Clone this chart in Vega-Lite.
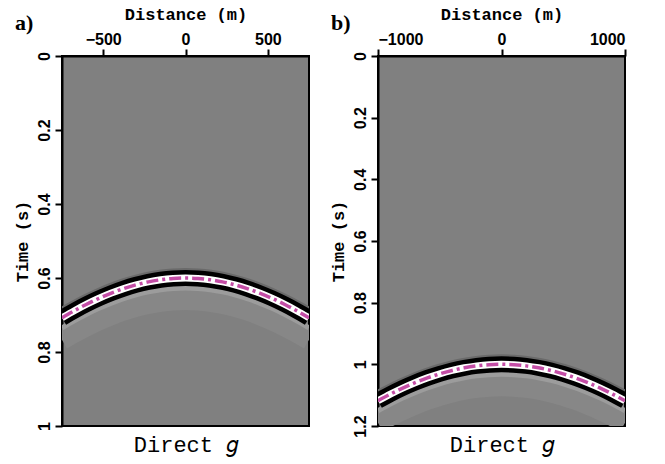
{
  "$schema": "https://vega.github.io/schema/vega-lite/v6.json",
  "background": "white",
  "padding": {"left": 12, "top": 4, "right": 5, "bottom": 5},
  "spacing": 18,
  "config": {
    "view": {"stroke": "black", "strokeWidth": 2, "fill": "#808080"},
    "axis": {
      "grid": false,
      "labelFont": "Liberation Sans",
      "labelFontWeight": "bold",
      "labelFontSize": 16,
      "labelColor": "black",
      "titleFont": "Liberation Mono",
      "titleFontWeight": "bold",
      "titleFontSize": 17,
      "titleColor": "black",
      "tickColor": "black",
      "tickWidth": 2,
      "tickSize": 7,
      "domainColor": "black",
      "domainWidth": 2,
      "format": "~r"
    },
    "axisX": {"labelPadding": 2, "titlePadding": 8},
    "axisY": {"labelAngle": 270, "labelAlign": "center", "labelBaseline": "bottom", "labelPadding": 3, "titlePadding": 5},
    "title": {"font": "Liberation Serif", "fontWeight": "bold", "fontSize": 22, "color": "black", "anchor": "start", "frame": "bounds"}
  },
  "hconcat": [
    {
      "width": 247,
      "height": 370,
      "title": {"text": "a)", "offset": -30, "dx": 2},
      "data": {"values": [
        {"x": -750, "t": 0.7076}, {"x": -675, "t": 0.6884}, {"x": -600, "t": 0.6708}, {"x": -525, "t": 0.6549},
        {"x": -450, "t": 0.6408}, {"x": -375, "t": 0.6286}, {"x": -300, "t": 0.6185}, {"x": -225, "t": 0.6105},
        {"x": -150, "t": 0.6047}, {"x": -75, "t": 0.6012}, {"x": 0, "t": 0.6}, {"x": 75, "t": 0.6012},
        {"x": 150, "t": 0.6047}, {"x": 225, "t": 0.6105}, {"x": 300, "t": 0.6185}, {"x": 375, "t": 0.6286},
        {"x": 450, "t": 0.6408}, {"x": 525, "t": 0.6549}, {"x": 600, "t": 0.6708}, {"x": 675, "t": 0.6884},
        {"x": 750, "t": 0.7076}
      ]},
      "layer": [
        {
          "mark": {"type": "line", "color": "#878787", "strokeWidth": 20, "clip": true, "interpolate": "monotone"},
          "encoding": {
            "x": {"field": "x", "type": "quantitative", "scale": {"domain": [-750, 750], "nice": false, "zero": false},
                  "axis": {"orient": "top", "title": "Distance (m)", "values": [-500, 0, 500]}},
            "y": {"field": "t", "type": "quantitative", "scale": {"domain": [0, 1], "reverse": true, "nice": false, "zero": false},
                  "axis": {"title": "Time (s)", "values": [0, 0.2, 0.4, 0.6, 0.8, 1]}},
            "yOffset": {"value": 22}
          }
        },
        {
          "mark": {"type": "line", "color": "#6a6a6a", "strokeWidth": 20, "clip": true, "interpolate": "monotone"},
          "encoding": {
            "x": {"field": "x", "type": "quantitative", "axis": null},
            "y": {"field": "t", "type": "quantitative", "axis": null}
          }
        },
        {
          "mark": {"type": "line", "color": "#9c9c9c", "strokeWidth": 5, "clip": true, "interpolate": "monotone"},
          "encoding": {
            "x": {"field": "x", "type": "quantitative", "axis": null},
            "y": {"field": "t", "type": "quantitative", "axis": null},
            "yOffset": {"value": 10}
          }
        },
        {
          "mark": {"type": "line", "color": "black", "strokeWidth": 16, "clip": true, "interpolate": "monotone"},
          "encoding": {
            "x": {"field": "x", "type": "quantitative", "axis": null},
            "y": {"field": "t", "type": "quantitative", "axis": null}
          }
        },
        {
          "mark": {"type": "line", "color": "white", "strokeWidth": 7, "clip": true, "interpolate": "monotone"},
          "encoding": {
            "x": {"field": "x", "type": "quantitative", "axis": null},
            "y": {"field": "t", "type": "quantitative", "axis": null}
          }
        },
        {
          "mark": {"type": "line", "color": "#c44ea6", "strokeWidth": 3.5, "strokeDash": [12, 4, 3, 4], "clip": true, "interpolate": "monotone"},
          "encoding": {
            "x": {"field": "x", "type": "quantitative", "axis": null},
            "y": {"field": "t", "type": "quantitative", "axis": null}
          }
        },
        {
          "mark": {"type": "line", "opacity": 0},
          "encoding": {
            "x": {"field": "x", "type": "quantitative",
                  "axis": {"orient": "bottom", "title": "Direct 𝑔", "labels": false, "ticks": false, "domain": false,
                           "titleFont": "Liberation Mono", "titleFontWeight": "normal", "titleFontSize": 22, "titlePadding": 8}},
            "y": {"field": "t", "type": "quantitative", "axis": null}
          }
        }
      ],
      "resolve": {"axis": {"x": "independent", "y": "independent"}}
    },
    {
      "width": 247,
      "height": 370,
      "title": {"text": "b)", "offset": -30, "dx": 2},
      "data": {"values": [
        {"x": -1000, "t": 1.118}, {"x": -900, "t": 1.0966}, {"x": -800, "t": 1.077}, {"x": -700, "t": 1.0595},
        {"x": -600, "t": 1.044}, {"x": -500, "t": 1.0308}, {"x": -400, "t": 1.0198}, {"x": -300, "t": 1.0112},
        {"x": -200, "t": 1.005}, {"x": -100, "t": 1.0012}, {"x": 0, "t": 1.0}, {"x": 100, "t": 1.0012},
        {"x": 200, "t": 1.005}, {"x": 300, "t": 1.0112}, {"x": 400, "t": 1.0198}, {"x": 500, "t": 1.0308},
        {"x": 600, "t": 1.044}, {"x": 700, "t": 1.0595}, {"x": 800, "t": 1.077}, {"x": 900, "t": 1.0966},
        {"x": 1000, "t": 1.118}
      ]},
      "layer": [
        {
          "mark": {"type": "line", "color": "#878787", "strokeWidth": 20, "clip": true, "interpolate": "monotone"},
          "encoding": {
            "x": {"field": "x", "type": "quantitative", "scale": {"domain": [-1000, 1000], "nice": false, "zero": false},
                  "axis": {"orient": "top", "title": "Distance (m)", "values": [-1000, 0, 1000]}},
            "y": {"field": "t", "type": "quantitative", "scale": {"domain": [0, 1.2], "reverse": true, "nice": false, "zero": false},
                  "axis": {"title": "Time (s)", "values": [0, 0.2, 0.4, 0.6, 0.8, 1, 1.2]}},
            "yOffset": {"value": 22}
          }
        },
        {
          "mark": {"type": "line", "color": "#6a6a6a", "strokeWidth": 20, "clip": true, "interpolate": "monotone"},
          "encoding": {
            "x": {"field": "x", "type": "quantitative", "axis": null},
            "y": {"field": "t", "type": "quantitative", "axis": null}
          }
        },
        {
          "mark": {"type": "line", "color": "#9c9c9c", "strokeWidth": 5, "clip": true, "interpolate": "monotone"},
          "encoding": {
            "x": {"field": "x", "type": "quantitative", "axis": null},
            "y": {"field": "t", "type": "quantitative", "axis": null},
            "yOffset": {"value": 10}
          }
        },
        {
          "mark": {"type": "line", "color": "black", "strokeWidth": 16, "clip": true, "interpolate": "monotone"},
          "encoding": {
            "x": {"field": "x", "type": "quantitative", "axis": null},
            "y": {"field": "t", "type": "quantitative", "axis": null}
          }
        },
        {
          "mark": {"type": "line", "color": "white", "strokeWidth": 7, "clip": true, "interpolate": "monotone"},
          "encoding": {
            "x": {"field": "x", "type": "quantitative", "axis": null},
            "y": {"field": "t", "type": "quantitative", "axis": null}
          }
        },
        {
          "mark": {"type": "line", "color": "#c44ea6", "strokeWidth": 3.5, "strokeDash": [12, 4, 3, 4], "clip": true, "interpolate": "monotone"},
          "encoding": {
            "x": {"field": "x", "type": "quantitative", "axis": null},
            "y": {"field": "t", "type": "quantitative", "axis": null}
          }
        },
        {
          "mark": {"type": "line", "opacity": 0},
          "encoding": {
            "x": {"field": "x", "type": "quantitative",
                  "axis": {"orient": "bottom", "title": "Direct 𝑔", "labels": false, "ticks": false, "domain": false,
                           "titleFont": "Liberation Mono", "titleFontWeight": "normal", "titleFontSize": 22, "titlePadding": 8}},
            "y": {"field": "t", "type": "quantitative", "axis": null}
          }
        }
      ],
      "resolve": {"axis": {"x": "independent", "y": "independent"}}
    }
  ]
}
